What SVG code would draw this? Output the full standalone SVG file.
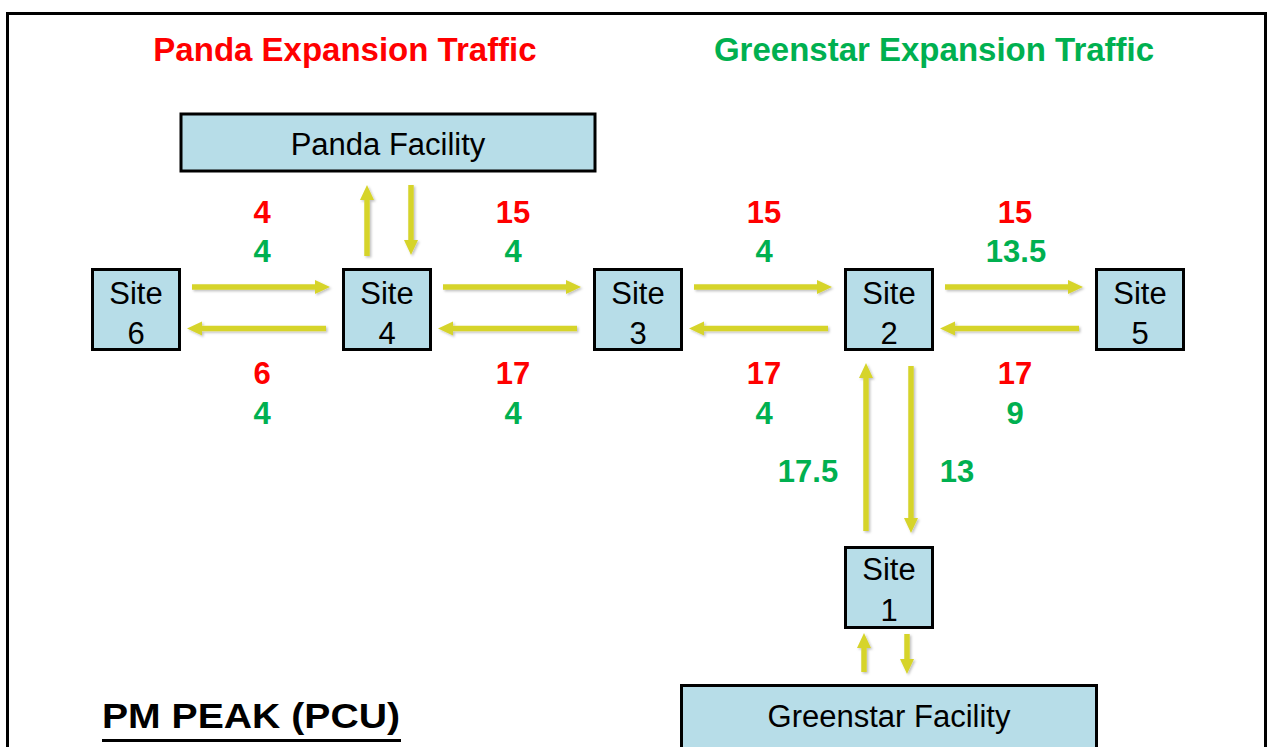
<svg xmlns="http://www.w3.org/2000/svg" width="1272" height="747" viewBox="0 0 1272 747">
<defs>
<style>
.box{fill:#B7DDE8;stroke:#000;stroke-width:3}
.lbl{font-family:"Liberation Sans",Arial,sans-serif;font-size:31px;fill:#000;text-anchor:middle}
.num{font-family:"Liberation Sans",Arial,sans-serif;font-size:31px;font-weight:bold;text-anchor:middle}
.ttl{font-family:"Liberation Sans",Arial,sans-serif;font-size:33px;font-weight:bold;text-anchor:middle}
.red{fill:#FF0000}
.grn{fill:#00B050}
.arr{stroke:#D6D42C;stroke-width:5.5;fill:none;marker-end:url(#ah);filter:url(#sh)}
</style>
<marker id="ah" markerUnits="userSpaceOnUse" markerWidth="16" markerHeight="15" refX="0" refY="7.5" orient="auto">
<path d="M0,0.5 L15,7.5 L0,14.5 z" fill="#D6D42C"/>
</marker>
<filter id="sh" filterUnits="userSpaceOnUse" x="0" y="0" width="1272" height="747">
<feDropShadow dx="1.5" dy="1.5" stdDeviation="1" flood-color="#000" flood-opacity="0.25"/>
</filter>
</defs>
<rect x="7.5" y="13.5" width="1258" height="760" fill="none" stroke="#000" stroke-width="3"/>
<text class="ttl red" x="345" y="61">Panda Expansion Traffic</text>
<text class="ttl grn" x="934" y="61">Greenstar Expansion Traffic</text>

<g id="panda-facility"><rect class="box" x="181" y="114" width="414" height="57"/><text class="lbl" x="388" y="155">Panda Facility</text></g>
<g id="site6"><rect class="box" x="92.5" y="269.5" width="87" height="80"/><text class="lbl" x="136" y="304">Site</text><text class="lbl" x="136" y="344">6</text></g>
<g id="site4"><rect class="box" x="343.5" y="269.5" width="87" height="80"/><text class="lbl" x="387" y="304">Site</text><text class="lbl" x="387" y="344">4</text></g>
<g id="site3"><rect class="box" x="594.5" y="269.5" width="87" height="80"/><text class="lbl" x="638" y="304">Site</text><text class="lbl" x="638" y="344">3</text></g>
<g id="site2"><rect class="box" x="845.5" y="269.5" width="87" height="80"/><text class="lbl" x="889" y="304">Site</text><text class="lbl" x="889" y="344">2</text></g>
<g id="site5"><rect class="box" x="1096.5" y="269.5" width="87" height="80"/><text class="lbl" x="1140" y="304">Site</text><text class="lbl" x="1140" y="344">5</text></g>
<g id="site1"><rect class="box" x="845.5" y="547.5" width="87" height="80"/><text class="lbl" x="889" y="580">Site</text><text class="lbl" x="889" y="621">1</text></g>
<g id="greenstar-facility"><rect class="box" x="681.5" y="685.5" width="415" height="80"/><text class="lbl" x="889" y="727">Greenstar Facility</text></g>

<g id="connectors">
<line class="arr" x1="192" y1="287" x2="315" y2="287"/>
<line class="arr" x1="443" y1="287" x2="566" y2="287"/>
<line class="arr" x1="694" y1="287" x2="817" y2="287"/>
<line class="arr" x1="945" y1="287" x2="1068" y2="287"/>
<line class="arr" x1="326" y1="328.5" x2="202" y2="328.5"/>
<line class="arr" x1="577" y1="328.5" x2="453" y2="328.5"/>
<line class="arr" x1="828" y1="328.5" x2="704" y2="328.5"/>
<line class="arr" x1="1079" y1="328.5" x2="955" y2="328.5"/>
<line class="arr" x1="367" y1="256" x2="367" y2="200"/>
<line class="arr" x1="411" y1="185" x2="411" y2="240"/>
<line class="arr" x1="866" y1="531" x2="866" y2="378"/>
<line class="arr" x1="911" y1="366" x2="911" y2="518"/>
<line class="arr" x1="864" y1="672" x2="864" y2="648"/>
<line class="arr" x1="907" y1="634" x2="907" y2="659"/>
</g>

<g id="labels">
<text class="num red" x="262" y="223">4</text>
<text class="num grn" x="262" y="262">4</text>
<text class="num red" x="513" y="223">15</text>
<text class="num grn" x="513" y="262">4</text>
<text class="num red" x="764" y="223">15</text>
<text class="num grn" x="764" y="262">4</text>
<text class="num red" x="1015" y="223">15</text>
<text class="num grn" x="1016" y="262">13.5</text>
<text class="num red" x="262" y="384">6</text>
<text class="num grn" x="262" y="424">4</text>
<text class="num red" x="513" y="384">17</text>
<text class="num grn" x="513" y="424">4</text>
<text class="num red" x="764" y="384">17</text>
<text class="num grn" x="764" y="424">4</text>
<text class="num red" x="1015" y="384">17</text>
<text class="num grn" x="1015" y="424">9</text>
<text class="num grn" x="808" y="482">17.5</text>
<text class="num grn" x="957" y="482">13</text>
</g>

<text x="102" y="728" font-family="'Liberation Sans',Arial,sans-serif" font-size="35" font-weight="bold" fill="#000" textLength="298" lengthAdjust="spacingAndGlyphs">PM PEAK (PCU)</text>
<line x1="102" y1="740.5" x2="401" y2="740.5" stroke="#000" stroke-width="3"/>
</svg>
